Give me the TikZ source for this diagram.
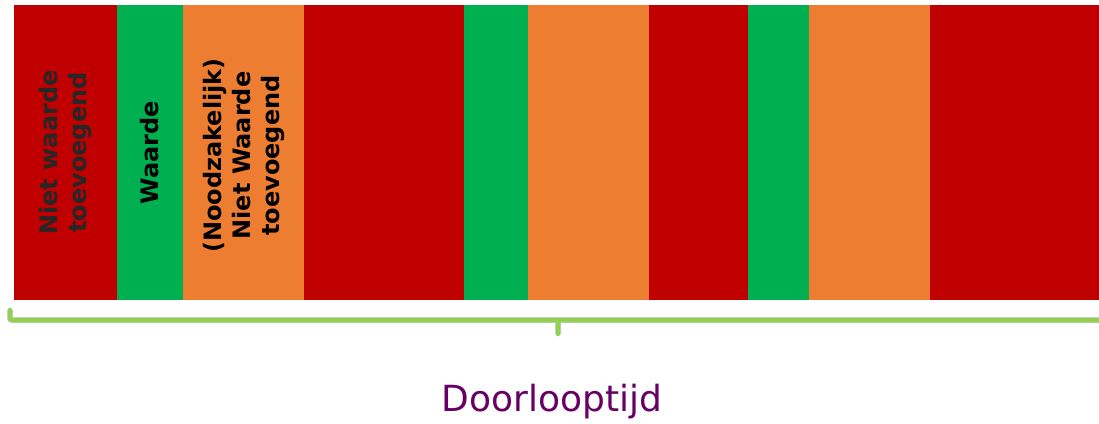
\documentclass[tikz,border=0pt]{standalone}
\usepackage{fontspec}
\setmainfont{DejaVu Sans}
\usetikzlibrary{positioning}
\definecolor{nvared}{HTML}{C00000}
\definecolor{vagreen}{HTML}{00B050}
\definecolor{nnvaorange}{HTML}{ED7D31}
\definecolor{bracegreen}{HTML}{92D050}
\definecolor{timepurple}{HTML}{660066}
\tikzset{
  bar/.style={inner sep=0pt, outer sep=0pt, minimum height=295pt},
  nva/.style={bar, fill=nvared},
  va/.style={bar, fill=vagreen},
  nnva/.style={bar, fill=nnvaorange},
  barlabel/.style={rotate=90, align=center, font=\bfseries\fontsize{24}{29}\selectfont},
}

\begin{document}
\begin{tikzpicture}[x=1pt, y=1pt]
\useasboundingbox (0,0) rectangle (1099,423);
    \node [nva, minimum width=103pt, anchor=west] (b1) at (14,270.5) {};
    \node [va, minimum width=66pt, right=0pt of b1] (b2) {};
    \node [nnva, minimum width=121pt, right=0pt of b2] (b3) {};
    \node [nva, minimum width=160pt, right=0pt of b3] (b4) {};
    \node [va, minimum width=64pt, right=0pt of b4] (b5) {};
    \node [nnva, minimum width=121pt, right=0pt of b5] (b6) {};
    \node [nva, minimum width=99pt, right=0pt of b6] (b7) {};
    \node [va, minimum width=61pt, right=0pt of b7] (b8) {};
    \node [nnva, minimum width=121pt, right=0pt of b8] (b9) {};
    \node [nva, minimum width=169pt, right=0pt of b9] (b10) {};

    \node [barlabel, text=black!85] (t1) at (b1.center) {Niet waarde\\toevoegend};
    \node [barlabel] (t2) at (b2.center) {Waarde};
    \node [barlabel, xshift=-3pt] (t3) at (b3.center) {(Noodzakelijk)\\Niet Waarde\\toevoegend};

    % accolade onder de balk
    \coordinate (bl) at (10,113);
    \coordinate (bc) at (10,103);
    \coordinate (br) at (1099,103);
    \coordinate (bm) at (558,103);
    \coordinate (bt) at (558,89);
    \draw [black, opacity=0.18, line width=6pt, rounded corners=2pt, shift={(1.5pt,-4pt)}]
        (bl) -- (bc) -- (br) (bm) -- (bt);
    \draw [bracegreen, line width=4.5pt, rounded corners=2pt, line cap=round]
        (bl) -- (bc) -- (br) (bm) -- (bt);

    \node [text=timepurple, font=\fontsize{36}{43}\selectfont] (lt) at (552,21) {Doorlooptijd};
\end{tikzpicture}
\end{document}
